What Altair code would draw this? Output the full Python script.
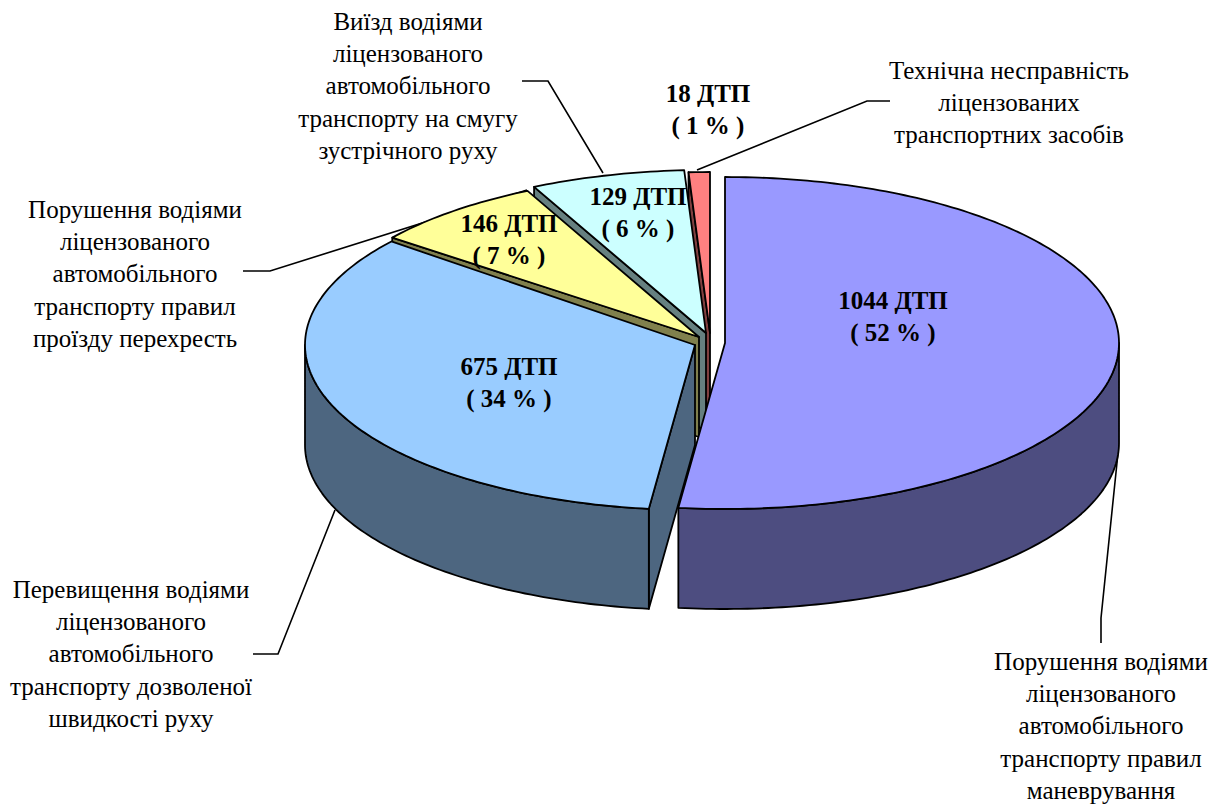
import math
import altair as alt

# ---- values
counts = [1044, 675, 146, 129, 18]
percents = [52, 34, 7, 6, 1]
captions = [
    ["Порушення водіями", "ліцензованого", "автомобільного", "транспорту правил", "маневрування"],
    ["Перевищення водіями", "ліцензованого", "автомобільного", "транспорту дозволеної", "швидкості руху"],
    ["Порушення водіями", "ліцензованого", "автомобільного", "транспорту правил", "проїзду перехресть"],
    ["Виїзд водіями", "ліцензованого", "автомобільного", "транспорту на смугу", "зустрічного руху"],
    ["Технічна несправність", "ліцензованих", "транспортних засобів"],
]

# ---- layout (page pixels)
top_colors = ["#9999FF", "#99CCFF", "#FFFF99", "#CCFFFF", "#FF8080"]
side_colors = ["#4D4D80", "#4D6680", "#80804D", "#668080", "#804040"]
apex = [(725, 343), (695, 345), (699, 337), (706, 333), (710, 333)]
radii = [(394, 166), (390, 165), (387, 163), (388, 163), (382, 161)]
end_tweak = [0, 1.3, 0, 0, 0]
depth = 100
value_pos = [(893, 301), (509, 367), (509, 224), (638, 197), (708, 94)]
caption_pos = [(1101, 662), (131, 590), (135, 210), (408, 22), (1009, 71)]
leaders = [
    [(1118, 453), (1101, 618), (1101, 643)],
    [(335, 510), (278, 654), (253, 654)],
    [(527, 190), (270, 271), (243, 271)],
    [(603, 173), (548, 81), (522, 81)],
    [(697, 170), (867, 101), (890, 101)],
]
LINE = 32.2

total = sum(counts)
starts = []
acc = 0.0
for c in counts:
    starts.append(acc)
    acc += c / total * 360.0


def pt(i, deg, dy=0.0):
    a = math.radians(deg)
    return [apex[i][0] + radii[i][0] * math.sin(a), apex[i][1] - radii[i][1] * math.cos(a) + dy]


def arc(i, a0, a1, dy=0.0):
    n = max(2, int(abs(a1 - a0)) + 1)
    return [pt(i, a0 + (a1 - a0) * k / (n - 1), dy) for k in range(n)]


def feature(ring, color):
    ring = ring + [ring[0]]
    return {"type": "Feature", "properties": {"color": color},
            "geometry": {"type": "Polygon", "coordinates": [ring]}}


features = []
for i in [4, 3, 2, 1, 0]:
    a0, a1 = starts[i], starts[i] + counts[i] / total * 360.0 + end_tweak[i]
    ax, ay = apex[i]
    # the radial cut face that looks towards the viewer
    if i > 0:
        p, q = pt(i, a0), pt(i, a0, depth)
        features.append(feature([[ax, ay], p, q, [ax, ay + depth]], side_colors[i]))
    # outer wall: the front half of the ellipse only
    w0, w1 = max(a0, 90.0), min(a1, 270.0)
    if w1 > w0:
        features.append(feature(arc(i, w0, w1) + arc(i, w1, w0, depth), side_colors[i]))
    # top
    features.append(feature([[ax, ay]] + arc(i, a0, a1), top_colors[i]))

leader_features = [
    {"type": "Feature", "properties": {},
     "geometry": {"type": "LineString", "coordinates": [list(p) for p in line]}}
    for line in leaders
]

bold_rows = []
for c, p, (x, y) in zip(counts, percents, value_pos):
    bold_rows.append({"t": f"{c} ДТП", "lon": x, "lat": y})
    bold_rows.append({"t": f"( {p} % )", "lon": x, "lat": y + LINE})

caption_rows = []
for lines, (x, y) in zip(captions, caption_pos):
    for k, s in enumerate(lines):
        caption_rows.append({"t": s, "lon": x, "lat": y + k * LINE})

proj = alt.Projection(type="identity", scale=1, translate=[-8, -8])

slices = alt.Chart(alt.Data(values=features)).mark_geoshape(
    stroke="black", strokeWidth=1.8, strokeJoin="round"
).encode(fill=alt.Fill("properties.color:N", scale=None)).project(**proj.to_dict())

lead = alt.Chart(alt.Data(values=leader_features)).mark_geoshape(
    filled=False, stroke="black", strokeWidth=1.6
).project(**proj.to_dict())

bold = alt.Chart(alt.Data(values=bold_rows)).mark_text(
    font="Liberation Serif", fontSize=25, fontWeight="bold", color="black"
).encode(longitude="lon:Q", latitude="lat:Q", text="t:N").project(**proj.to_dict())

cap = alt.Chart(alt.Data(values=caption_rows)).mark_text(
    font="Liberation Serif", fontSize=25, color="black"
).encode(longitude="lon:Q", latitude="lat:Q", text="t:N").project(**proj.to_dict())

chart = alt.layer(lead, slices, bold, cap).properties(
    width=1203, height=797, padding=0, autosize=alt.AutoSizeParams(type="none")
).configure_view(stroke=None)

chart.save("out.html", embed_options={"renderer": "svg", "actions": False})
